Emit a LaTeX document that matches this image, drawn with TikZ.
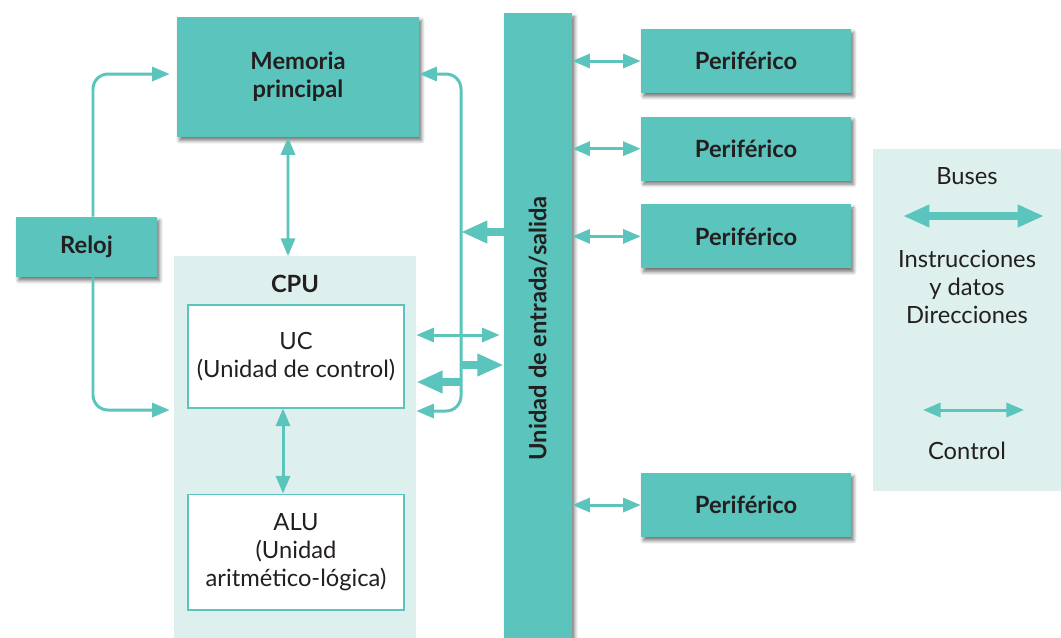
\documentclass[tikz,border=0pt]{standalone}
\usepackage{fontspec}
\setmainfont{Lato}
\usepackage{graphicx}
\usetikzlibrary{positioning,arrows.meta,shadows.blur}
\definecolor{busteal}{RGB}{91,196,188}
\definecolor{cpubg}{RGB}{221,240,238}
\definecolor{inkgray}{RGB}{35,31,32}
\newcommand{\boxfont}{\fontsize{13.5pt}{16pt}\selectfont}

\begin{document}
\begin{tikzpicture}[x=0.02cm, y=-0.02cm, node distance=0.46cm,
unit/.style={fill=busteal, text=inkgray, font=\boxfont\bfseries, align=center,
  blur shadow={shadow xshift=0.5mm, shadow yshift=-0.7mm, shadow blur steps=6, shadow opacity=55}},
periph/.style={unit, minimum width=4.2cm, minimum height=1.28cm},
part/.style={draw=busteal, line width=0.6pt, fill=white, text=inkgray, font=\boxfont, align=center, minimum width=4.32cm},
panel/.style={fill=cpubg, inner sep=0pt},
legtext/.style={text=inkgray, font=\boxfont, align=center},
ctrl/.style={draw=busteal, line width=1.7pt, {Triangle[length=10pt,width=8pt]}-{Triangle[length=10pt,width=8pt]}},
tick/.style={draw=busteal, line width=1.7pt, -{Triangle[length=10pt,width=8pt]}},
bus/.style={draw=busteal, line width=4pt, -{Triangle[length=15pt,width=12pt]}},
busboth/.style={draw=busteal, line width=4pt, {Triangle[length=15pt,width=12pt]}-{Triangle[length=15pt,width=12pt]}}
]
\useasboundingbox (0,0) rectangle (1061,637);

% memory, clock and cpu
\node[unit, minimum width=4.84cm, minimum height=2.4cm](mem) at (298,77){Memoria\\principal};
\node[unit, minimum width=2.82cm, minimum height=1.2cm](reloj) at (86.5,247){Reloj};
\node[panel, minimum width=4.84cm, minimum height=7.8cm, anchor=north](cpu) at (295,256){};
\node[text=inkgray, font=\boxfont\bfseries](cpu_label) at (295,284){CPU};
\node[part, minimum height=2.06cm](uc) at (296,356.5){UC\\(Unidad de control)};
\node[part, minimum height=2.32cm](alu)[below=1.7cm of uc]{ALU\\(Unidad\\aritmético-lógica)};

% input/output bar and peripherals
\node[unit, minimum width=1.36cm, minimum height=12.6cm, anchor=north](io) at (538,13){\rotatebox{90}{Unidad de entrada/salida}};
\node[periph](per_1) at (746,61){Periférico};
\node[periph](per_2)[below=of per_1]{Periférico};
\node[periph](per_3)[below=of per_2]{Periférico};
\node[periph](per_4)[below=4.08cm of per_3]{Periférico};

% legend
\node[panel, minimum width=3.76cm, minimum height=6.84cm](legend) at (967,320){};
\node[legtext](leg_buses) at (967,176){Buses};
\node[legtext](leg_data) at (967,287){Instrucciones\\y datos\\Direcciones};
\node[legtext](leg_ctrl) at (967,451){Control};
\coordinate (bus_l) at (903,216);
\coordinate (bus_r) at (1044,216);
\coordinate (ctrl_l) at (923,410);
\coordinate (ctrl_r) at (1024,410);

% clock lines
\draw[tick, rounded corners=0.3cm, shorten >=0.14cm] ([xshift=0.13cm]reloj.north) |- ([yshift=0.06cm]mem.west);
\draw[tick, rounded corners=0.3cm, shorten >=0.08cm] ([xshift=0.13cm]reloj.south) |- (cpu.west |- 0,410);

\draw[ctrl] ([xshift=-0.2cm]mem.south) -- ([xshift=-0.14cm]cpu.north);
\draw[ctrl] ([xshift=-0.26cm]uc.south) -- ([xshift=-0.26cm]alu.north);

% control line
\draw[ctrl, rounded corners=0.3cm] ([yshift=0.06cm]mem.east) -- (461,74) -- (461,411) -- (cpu.east |- 0,411);
\draw[ctrl, shorten >=0.08cm] (cpu.east |- 0,335) -- (io.west |- 0,335);

% buses
\draw[bus] (io.west |- 0,232) -- (461,232);
\draw[bus] (461,365) -- (io.west |- 0,365);
\draw[bus] (461,382) -- (cpu.east |- 0,382);

\foreach \n in {1,...,4}
  \draw[ctrl] (io.east |- per_\n) -- (per_\n.west);

\draw[busboth] (bus_l) -- (bus_r);
\draw[ctrl] (ctrl_l) -- (ctrl_r);
\end{tikzpicture}
\end{document}
